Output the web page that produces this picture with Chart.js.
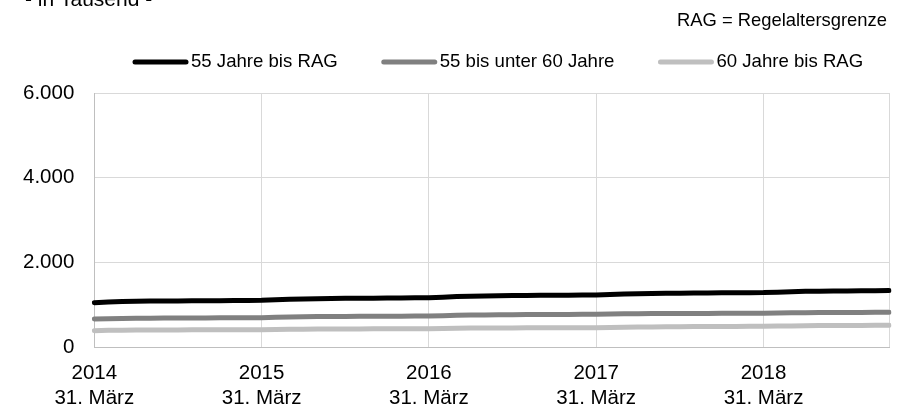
<!DOCTYPE html>
<html>
<head>
<meta charset="utf-8">
<script src="https://cdn.jsdelivr.net/npm/chart.js@4/dist/chart.umd.min.js"></script>
<style>
  html, body { margin: 0; padding: 0; background: #fff; }
  #wrap { width: 903px; height: 409px; position: relative; }
</style>
</head>
<body>
<div id="wrap"><canvas id="grafico"></canvas></div>
<script>
// Monatswerte März 2014 bis Dezember 2018, in Tausend
const startJahr = 2014;
const startMonat = 3;
const anzahlMonate = 58;
const jahre = ['2014', '2015', '2016', '2017', '2018'];
const stichtag = '31. März';
const yTicks = [0, 2000, 4000, 6000];

const serienNamen = ['55 Jahre bis RAG', '55 bis unter 60 Jahre', '60 Jahre bis RAG'];

const jahre55bisRAG = [
  1047, 1063, 1074, 1081, 1084, 1087, 1089, 1091, 1093, 1094, 1096, 1099,
  1102, 1114, 1127, 1136, 1142, 1146, 1149, 1152, 1154, 1157, 1160, 1163,
  1166, 1178, 1191, 1200, 1206, 1211, 1214, 1217, 1220, 1222, 1225, 1226,
  1229, 1240, 1251, 1259, 1264, 1269, 1272, 1275, 1278, 1281, 1283, 1284,
  1286, 1296, 1306, 1314, 1318, 1322, 1325, 1327, 1329, 1333
];
const jahre55bis60 = [
  662, 670, 676, 680, 682, 684, 685, 686, 687, 688, 689, 691,
  693, 700, 708, 714, 718, 720, 722, 724, 725, 727, 729, 731,
  733, 740, 748, 754, 758, 761, 763, 765, 767, 768, 770, 771,
  773, 778, 783, 787, 789, 791, 792, 793, 794, 795, 796, 796,
  797, 802, 807, 811, 813, 815, 816, 817, 818, 820
];
const jahre60bisRAG = [
  385, 393, 398, 401, 402, 403, 404, 405, 406, 406, 407, 408,
  409, 414, 419, 422, 424, 426, 427, 428, 429, 430, 431, 432,
  433, 438, 443, 446, 448, 450, 451, 452, 453, 454, 455, 455,
  456, 462, 468, 472, 475, 478, 480, 482, 484, 486, 487, 488,
  489, 494, 499, 503, 505, 507, 509, 510, 511, 513
];

const farben = ['#000000', '#808080', '#bfbfbf'];

// Kategorien: ein Eintrag je Monat
const monate = [];
for (let i = 0; i < anzahlMonate; i++) {
  const m = startMonat - 1 + i;
  const jahr = startJahr + Math.floor(m / 12);
  monate.push(jahr + '-' + String((m % 12) + 1).padStart(2, '0'));
}

function tausender(v) {
  return String(v).replace(/\B(?=(\d{3})+(?!\d))/g, '.');
}

const schrift = '"Liberation Sans", Arial, sans-serif';
Chart.defaults.font.family = schrift;
Chart.defaults.color = '#000000';

// Eigene Legende und Zusatztexte
const textePlugin = {
  id: 'texte',
  afterDraw(chart) {
    const ctx = chart.ctx;
    ctx.save();
    ctx.fillStyle = '#000';
    ctx.font = '21px ' + schrift;
    ctx.textAlign = 'left';
    ctx.textBaseline = 'alphabetic';
    ctx.fillText('- in Tausend -', 25, 6);

    ctx.font = '18.4px ' + schrift;
    ctx.textAlign = 'right';
    ctx.textBaseline = 'middle';
    ctx.fillText('RAG = Regelaltersgrenze', 887, 21);

    // Legende
    ctx.font = '18.6px ' + schrift;
    ctx.textAlign = 'left';
    let x = 133;
    const y = 62;
    chart.data.datasets.forEach(ds => {
      ctx.strokeStyle = ds.borderColor;
      ctx.lineWidth = 5;
      ctx.lineCap = 'round';
      ctx.beginPath();
      ctx.moveTo(x + 2, y);
      ctx.lineTo(x + 53, y);
      ctx.stroke();
      x += 58;
      ctx.fillText(ds.label, x, y);
      x += ctx.measureText(ds.label).width + 44;
    });
    ctx.restore();
  }
};

new Chart(document.getElementById('grafico').getContext('2d'), {
  type: 'line',
  data: {
    labels: monate,
    datasets: [
      { label: serienNamen[0], data: jahre55bisRAG, borderColor: farben[0], backgroundColor: farben[0] },
      { label: serienNamen[1], data: jahre55bis60, borderColor: farben[1], backgroundColor: farben[1] },
      { label: serienNamen[2], data: jahre60bisRAG, borderColor: farben[2], backgroundColor: farben[2] }
    ]
  },
  options: {
    responsive: true,
    maintainAspectRatio: false,
    animation: false,
    layout: { padding: { top: 93, left: 3, right: 13, bottom: 0 } },
    elements: {
      point: { radius: 0 },
      line: { borderWidth: 5, tension: 0, borderCapStyle: 'round', borderJoinStyle: 'round' }
    },
    plugins: {
      legend: { display: false },
      tooltip: { enabled: false }
    },
    scales: {
      x: {
        offset: false,
        border: { color: '#bfbfbf', width: 1 },
        grid: {
          drawTicks: false,
          color: c => (c.index % 12 === 0 || c.index === anzahlMonate - 1) ? '#d9d9d9' : 'rgba(0,0,0,0)'
        },
        afterFit: axis => { axis.height = 62; },
        ticks: {
          autoSkip: false,
          maxRotation: 0,
          minRotation: 0,
          padding: 14,
          font: { size: 20.5, lineHeight: 1.22 },
          callback: function (value, index) {
            if (index % 12 !== 0) return '';
            return [jahre[index / 12], stichtag];
          }
        }
      },
      y: {
        min: 0,
        max: 6000,
        border: { color: '#bfbfbf', width: 1 },
        grid: { drawTicks: false, color: '#d9d9d9' },
        afterBuildTicks: axis => { axis.ticks = yTicks.map(v => ({ value: v })); },
        ticks: {
          padding: 20,
          font: { size: 20.5 },
          callback: v => tausender(v)
        }
      }
    }
  },
  plugins: [textePlugin]
});
</script>
</body>
</html>
